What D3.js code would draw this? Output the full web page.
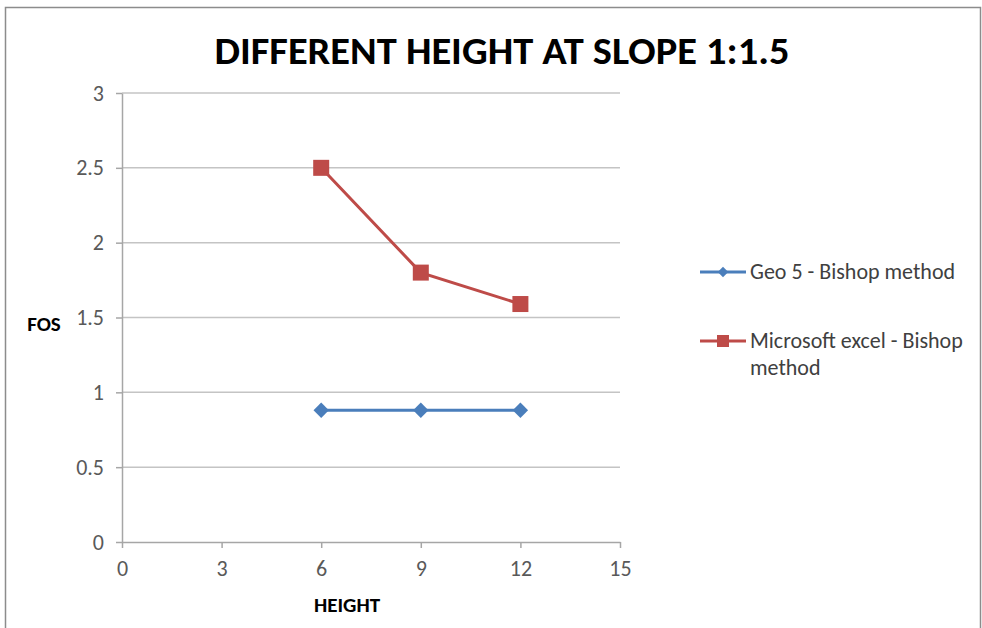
<!DOCTYPE html>
<html><head><meta charset="utf-8">
<script src="https://cdn.jsdelivr.net/npm/d3@7"></script>
<style>body{margin:0;background:#fff}svg{display:block}</style>
</head><body>
<script>
const heights = [6, 9, 12];
const geo5 = [0.88, 0.88, 0.88];
const excel = [2.5, 1.8, 1.59];
const xTicks = [0, 3, 6, 9, 12, 15];
const yTicks = [0, 0.5, 1, 1.5, 2, 2.5, 3];
const seriesNames = ["Geo 5 - Bishop method", "Microsoft excel - Bishop method"];
const colors = ["#4a7ebb", "#be4b48"];

const W = 982, H = 628;
const svg = d3.select("body").append("svg").attr("width", W).attr("height", H);
svg.append("rect").attr("x", 5.5).attr("y", 7.5).attr("width", 975).attr("height", 640)
  .attr("fill", "#fff").attr("stroke", "#8c8c8c").attr("stroke-width", 1.5);

const x = d3.scaleLinear().domain([0, 15]).range([122, 620]);
const y = d3.scaleLinear().domain([0, 3]).range([542, 93]);
const font = "Calibri, Carlito, 'Liberation Sans Narrow', 'Open Sans', sans-serif";

// gridlines
svg.append("g").selectAll("line").data(yTicks.filter(d => d > 0)).join("line")
  .attr("x1", x(0)).attr("x2", x(15)).attr("y1", d => y(d)).attr("y2", d => y(d))
  .attr("stroke", "#c4c4c4").attr("stroke-width", 1.5);

const xAxis = svg.append("g").attr("transform", `translate(0,${y(0)})`)
  .call(d3.axisBottom(x).tickValues(xTicks).tickFormat(d => String(d)).tickSize(6).tickSizeOuter(0).tickPadding(12));
const yAxis = svg.append("g").attr("transform", `translate(${x(0)},0)`)
  .call(d3.axisLeft(y).tickValues(yTicks).tickFormat(d => String(d)).tickSize(6).tickSizeOuter(0).tickPadding(12));
[xAxis, yAxis].forEach(a => {
  a.select(".domain").attr("stroke", "#a6a6a6").attr("stroke-width", 1.5);
  a.selectAll(".tick line").attr("stroke", "#a6a6a6").attr("stroke-width", 1.5);
  a.selectAll("text").attr("fill", "#595959").style("font-family", font).style("font-size", "22px");
});

const data = [geo5, excel];
const line = d3.line().x((d, i) => x(heights[i])).y(d => y(d));
data.forEach((vals, s) => {
  svg.append("path").datum(vals).attr("d", line).attr("fill", "none")
    .attr("stroke", colors[s]).attr("stroke-width", 3);
});
const diamond = d3.symbol().type(d3.symbolDiamond2).size(150);
svg.append("g").selectAll("path").data(geo5).join("path")
  .attr("d", diamond).attr("transform", (d, i) => `translate(${x(heights[i])},${y(d)})`)
  .attr("fill", colors[0]);
svg.append("g").selectAll("rect").data(excel).join("rect")
  .attr("x", (d, i) => x(heights[i]) - 8).attr("y", d => y(d) - 8)
  .attr("width", 16).attr("height", 16).attr("fill", colors[1]);

// title
svg.append("text").attr("x", 502).attr("y", 64).attr("text-anchor", "middle")
  .style("font-family", font).style("font-weight", "bold").style("font-size", "39px")
  .attr("textLength", 575).attr("lengthAdjust", "spacingAndGlyphs")
  .attr("fill", "#000").text("DIFFERENT HEIGHT AT SLOPE 1:1.5");
// axis titles
svg.append("text").attr("x", 44).attr("y", 331).attr("text-anchor", "middle")
  .style("font-family", font).style("font-weight", "bold").style("font-size", "21px")
  .attr("fill", "#000").text("FOS");
svg.append("text").attr("x", 347).attr("y", 612).attr("text-anchor", "middle")
  .style("font-family", font).style("font-weight", "bold").style("font-size", "21px")
  .attr("fill", "#000").text("HEIGHT");

// legend
const leg = [{y: 272, lines: ["Geo 5 - Bishop method"]}, {y: 341, lines: ["Microsoft excel - Bishop", "method"]}];
leg.forEach((l, s) => {
  const g = svg.append("g");
  g.append("line").attr("x1", 700).attr("x2", 746).attr("y1", l.y).attr("y2", l.y)
    .attr("stroke", colors[s]).attr("stroke-width", 3);
  if (s === 0) g.append("path").attr("d", d3.symbol().type(d3.symbolDiamond2).size(70))
    .attr("transform", `translate(723,${l.y})`).attr("fill", colors[0]);
  else g.append("rect").attr("x", 717).attr("y", l.y - 6).attr("width", 12).attr("height", 12).attr("fill", colors[1]);
  const t = g.append("text").attr("x", 750).attr("y", l.y + 7)
    .style("font-family", font).style("font-size", "22px").attr("fill", "#404040");
  l.lines.forEach((txt, k) => t.append("tspan").attr("x", 750).attr("dy", k ? 27 : 0).text(txt));
});
</script>
</body></html>
